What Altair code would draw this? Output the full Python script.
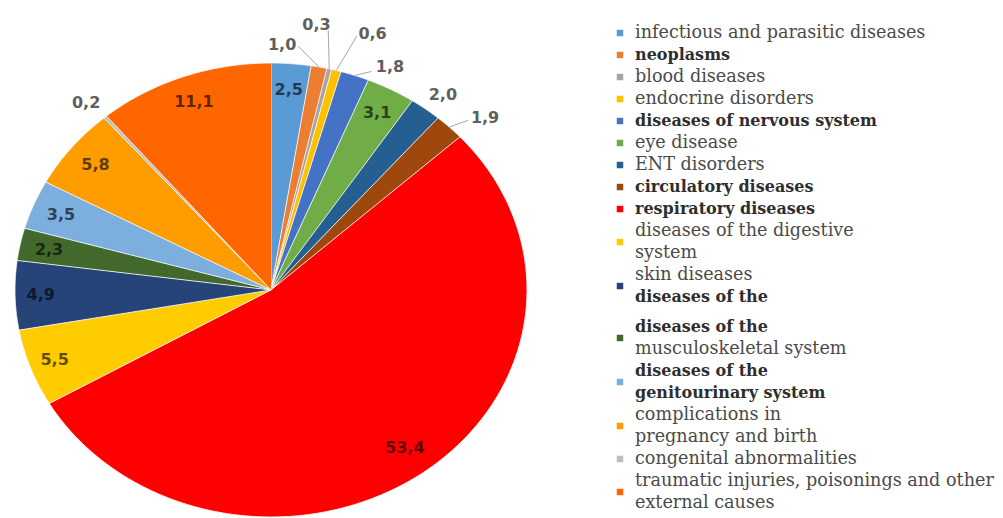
import altair as alt
import pandas as pd

# Structure of morbidity, % of all cases
categories = [
    "infectious and parasitic diseases", "neoplasms", "blood diseases",
    "endocrine disorders", "diseases of nervous system", "eye disease",
    "ENT disorders", "circulatory diseases", "respiratory diseases",
    "diseases of the digestive system", "skin diseases",
    "diseases of the musculoskeletal system", "diseases of the genitourinary system",
    "complications in pregnancy and birth", "congenital abnormalities",
    "traumatic injuries, poisonings and other external causes",
]
shares = [2.5, 1.0, 0.3, 0.6, 1.8, 3.1, 2.0, 1.9, 53.4, 5.5, 4.9, 2.3, 3.5, 5.8, 0.2, 11.1]
colors = [
    "#5B9BD5", "#ED7D31", "#A5A5A5", "#FFC000", "#4472C4", "#70AD47",
    "#255E91", "#9E480E", "#FF0000", "#FFCC00", "#264478", "#43682B",
    "#7CAFDD", "#FF9C00", "#BDBDBD", "#FF6600",
]

# legend text, wrapped as printed
legend_lines = [
    ["infectious and parasitic diseases"],
    ["neoplasms"],
    ["blood diseases"],
    ["endocrine disorders"],
    ["diseases of nervous system"],
    ["eye disease"],
    ["ENT disorders"],
    ["circulatory diseases"],
    ["respiratory diseases"],
    ["diseases of the digestive", "system"],
    ["skin diseases", "diseases of the"],
    ["diseases of the", "musculoskeletal system"],
    ["diseases of the", "genitourinary system"],
    ["complications in", "pregnancy and birth"],
    ["congenital abnormalities"],
    ["traumatic injuries, poisonings and other", "external causes"],
]
legend_bold = [
    [0], [1], [0], [0], [1], [0], [0], [1], [1], [0, 0],
    [0, 1], [1, 0], [1, 1], [0, 0], [0], [0, 0],
]

# label placement: inside or outside the slice, radial factor, angular nudge (deg)
label_side = ["in", "out", "out", "out", "out", "in", "out", "out",
              "in", "in", "in", "in", "in", "in", "out", "in"]
label_rho = [0.885, 1.08, 1.18, 1.196, 1.087, 0.885, 1.09, 1.128,
             0.87, 0.9, 0.9, 0.885, 0.885, 0.88, 1.095, 0.88]
label_shift = [0, -8.5, -4.5, 4.6, 6.2, 0, 0.9, 3.7,
               -0.7, 0, 0, 0, 0, 0, -0.9, 0]
# leader lines: start nudge (deg), start radial factor; 0 radial = no leader
lead_shift = [0, -5.2, -2.1, 1.9, 3.1, 0, 0, 1.7, 0, 0, 0, 0, 0, 0, 0, 0]
lead_rho = [0, 1.08, 1.166, 1.168, 1.04, 0, 0, 1.074, 0, 0, 0, 0, 0, 0, 0, 0]

# pie geometry (pixels): centre and the two semi-axes
CX, CY, RX, RY = 271, 290, 256, 227
STEPS = 90

pie_df = pd.DataFrame({
    "category": categories,
    "share": shares,
    "order": list(range(len(categories))),
    "side": label_side,
    "rho": label_rho,
    "shift": label_shift,
    "lshift": lead_shift,
    "lrho": lead_rho,
})
pie_df["step"] = [list(range(-1, STEPS + 1)) for _ in categories]

color_scale = alt.Scale(domain=categories, range=colors)
xs = alt.Scale(domain=[-1, 1], range=[CX - RX, CX + RX], nice=False, zero=False)
ys = alt.Scale(domain=[-1, 1], range=[CY + RY, CY - RY], nice=False, zero=False)

base = alt.Chart(pie_df).transform_window(
    cum="sum(share)", sort=[alt.SortField("order")], frame=[None, 0]
).transform_joinaggregate(
    total="sum(share)"
).transform_calculate(
    a0="2*PI*(datum.cum - datum.share)/datum.total",
    a1="2*PI*datum.cum/datum.total",
).transform_calculate(
    amid="(datum.a0 + datum.a1)/2"
)

slices = base.transform_flatten(["step"]).transform_calculate(
    ang=f"datum.a0 + (datum.a1 - datum.a0)*datum.step/{STEPS}"
).transform_calculate(
    px="datum.step < 0 ? 0 : sin(datum.ang)",
    py="datum.step < 0 ? 0 : cos(datum.ang)",
).mark_line(filled=True, stroke="white", strokeWidth=0.8, strokeJoin="round").encode(
    x=alt.X("px:Q", scale=xs, axis=None),
    y=alt.Y("py:Q", scale=ys, axis=None),
    color=alt.Color("category:N", scale=color_scale, legend=None),
    detail="category:N",
    order=alt.Order("step:Q"),
)

labels = base.transform_calculate(
    la="datum.amid + datum.shift*PI/180",
    txt="replace(format(datum.share, '.1f'), '.', ',')",
).transform_calculate(
    lx="datum.rho*sin(datum.la)",
    ly="datum.rho*cos(datum.la)",
)

inside = labels.transform_filter("datum.side == 'in'").mark_text(
    font="DejaVu Sans", fontSize=16, fontWeight="bold", color="#000000",
    opacity=0.62, align="center", baseline="middle",
).encode(
    x=alt.X("lx:Q", scale=xs, axis=None),
    y=alt.Y("ly:Q", scale=ys, axis=None),
    text="txt:N",
)

outside = labels.transform_filter("datum.side == 'out'").mark_text(
    font="DejaVu Sans", fontSize=16, fontWeight="bold", color="#5f5f5f",
    align="center", baseline="middle",
).encode(
    x=alt.X("lx:Q", scale=xs, axis=None),
    y=alt.Y("ly:Q", scale=ys, axis=None),
    text="txt:N",
)

leaders = base.transform_filter("datum.lrho > 0").transform_calculate(
    sa="datum.amid + datum.lshift*PI/180",
).transform_calculate(
    x1="datum.lrho*sin(datum.sa)",
    y1="datum.lrho*cos(datum.sa)",
    x2="sin(datum.amid)",
    y2="cos(datum.amid)",
).mark_rule(color="#a6a6a6", strokeWidth=1).encode(
    x=alt.X("x1:Q", scale=xs, axis=None),
    y=alt.Y("y1:Q", scale=ys, axis=None),
    x2="x2:Q",
    y2="y2:Q",
)

# legend rows: one row per printed line, with a small gap before the
# musculoskeletal entry
rows, marks = [], []
pos = 0.0
GAP = 0.36
for i, (cat, lines) in enumerate(zip(categories, legend_lines)):
    if i == 11:
        pos += GAP
    ps = []
    for j, line in enumerate(lines):
        rows.append({"category": cat, "text": line, "p": pos,
                     "bold": legend_bold[i][j]})
        ps.append(pos)
        pos += 1
    marks.append({"category": cat, "p": sum(ps) / len(ps)})
legend_text_df = pd.DataFrame(rows)
legend_mark_df = pd.DataFrame(marks)
ly_scale = alt.Scale(domain=[0, 21 + GAP], range=[33, 503], nice=False, zero=False)

leg_symbols = alt.Chart(legend_mark_df).mark_square(size=42, opacity=1).encode(
    x=alt.value(620),
    y=alt.Y("p:Q", scale=ly_scale, axis=None),
    color=alt.Color("category:N", scale=color_scale, legend=None),
)
leg_plain = alt.Chart(legend_text_df).transform_filter("datum.bold == 0").mark_text(
    font="DejaVu Serif", fontSize=17.6, color="#4a4a4a", align="left", baseline="middle",
).encode(
    x=alt.value(635),
    y=alt.Y("p:Q", scale=ly_scale, axis=None),
    text="text:N",
)
leg_bold = alt.Chart(legend_text_df).transform_filter("datum.bold == 1").mark_text(
    font="DejaVu Serif", fontSize=16, fontWeight="bold", color="#2e2e2e",
    align="left", baseline="middle",
).encode(
    x=alt.value(635),
    y=alt.Y("p:Q", scale=ly_scale, axis=None),
    text="text:N",
)

chart = alt.layer(
    slices, leaders, inside, outside, leg_symbols, leg_plain, leg_bold
).resolve_scale(
    x="independent", y="independent"
).properties(
    width=1003, height=518, padding=0, autosize="none", background="white"
).configure_view(stroke=None)

chart.save("out.html", embed_options={"renderer": "svg", "actions": False})
